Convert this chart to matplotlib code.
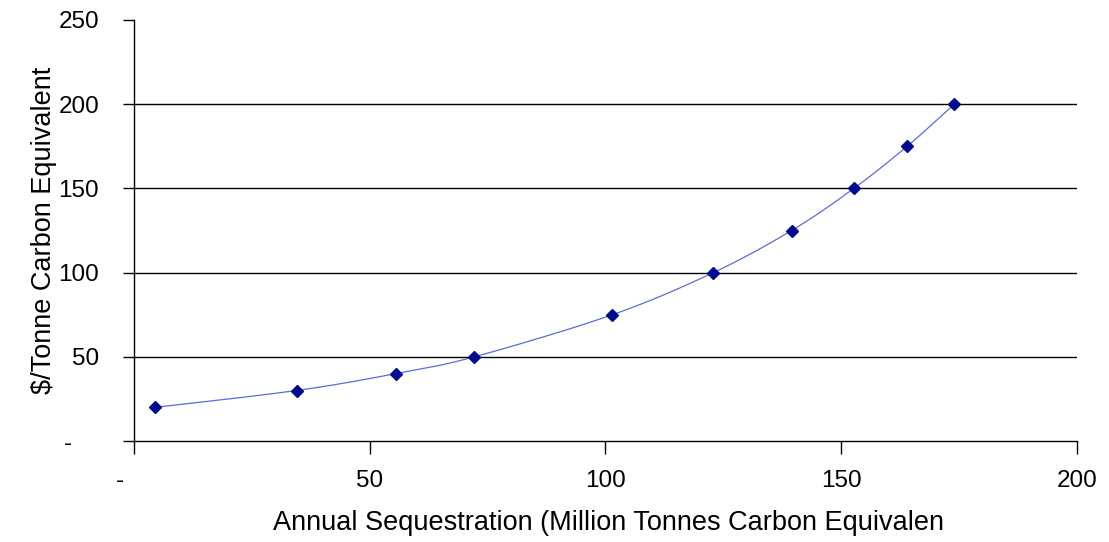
import numpy as np
import matplotlib
matplotlib.use("Agg")
import matplotlib.pyplot as plt

plt.rcParams['font.family'] = ['Liberation Sans', 'DejaVu Sans']

# Sequestration supply curve
sequestration = [4.5, 34.5, 55.5, 72.2, 101.5, 122.9, 139.5, 152.7, 164.0, 174.0]
price = [20, 30, 40, 50, 75, 100, 125, 150, 175, 200]

x_ticks = [0, 50, 100, 150, 200]
x_tick_labels = ["-    ", "50", "100", "150", "200"]
y_ticks = [0, 50, 100, 150, 200, 250]
y_tick_labels = ["-    ", "50", "100", "150", "200", "250"]


def smooth_curve(xs, ys, n=30):
    """Catmull-Rom spline through the points, like a smoothed line chart."""
    pts = np.column_stack([xs, ys]).astype(float)
    ext = np.vstack([pts[0], pts, pts[-1]])
    out = []
    t = np.linspace(0, 1, n, endpoint=False)[:, None]
    for i in range(1, len(ext) - 2):
        p0, p1, p2, p3 = ext[i - 1], ext[i], ext[i + 1], ext[i + 2]
        seg = 0.5 * ((2 * p1) + (-p0 + p2) * t
                     + (2 * p0 - 5 * p1 + 4 * p2 - p3) * t ** 2
                     + (-p0 + 3 * p1 - 3 * p2 + p3) * t ** 3)
        out.append(seg)
    out.append(pts[-1][None, :])
    c = np.vstack(out)
    return c[:, 0], c[:, 1]


fig = plt.figure(figsize=(11.09, 5.42), dpi=100)
ax = fig.add_axes([0.1208, 0.1863, 0.8502, 0.7768])

sx, sy = smooth_curve(sequestration, price)
ax.plot(sx, sy, color="#5b6cd6", lw=0.9, zorder=3)
ax.plot(sequestration, price, linestyle="none", marker="D", ms=6.5,
        color="#000a8c", zorder=4)

ax.set_xlim(0, 200)
ax.set_ylim(0, 250)
ax.set_xticks(x_ticks)
ax.set_xticklabels(x_tick_labels)
ax.set_yticks(y_ticks)
ax.set_yticklabels(y_tick_labels)

for yv in y_ticks[1:-1]:
    ax.axhline(yv, color="black", lw=1.0, zorder=1)

for side in ("top", "right"):
    ax.spines[side].set_visible(False)
for side in ("left", "bottom"):
    ax.spines[side].set_linewidth(1.0)
    ax.spines[side].set_color("black")

ax.tick_params(axis="x", direction="out", length=9, width=1.0, pad=12,
               labelsize=17.5)
ax.tick_params(axis="y", direction="out", length=8, width=1.0, pad=17,
               labelsize=17.5)

ax.set_xlabel("Annual Sequestration (Million Tonnes Carbon Equivalen",
              fontsize=19.5)
ax.set_ylabel("$/Tonne Carbon Equivalent", fontsize=19.5)
ax.xaxis.set_label_coords(0.503, -0.165)
ax.yaxis.set_label_coords(-0.082, 0.5)

fig.savefig("out.png", dpi=100)
